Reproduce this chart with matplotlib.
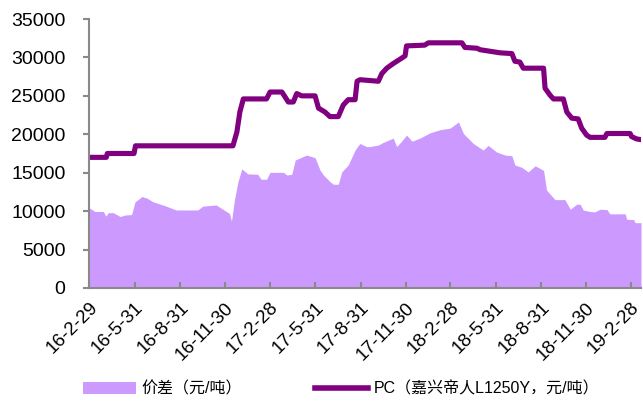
import matplotlib

matplotlib.use("Agg")
import matplotlib.pyplot as plt
import pandas as pd
from matplotlib.lines import Line2D
from matplotlib.patches import Patch

# 价差 (spread), yuan/ton
spread_dates = [
    "2016-02-29", "2016-03-02", "2016-03-12", "2016-03-29", "2016-04-03", "2016-04-08",
    "2016-04-18", "2016-05-02", "2016-05-12", "2016-05-25", "2016-06-01", "2016-06-15",
    "2016-06-25", "2016-07-08", "2016-08-01", "2016-08-23", "2016-10-06", "2016-10-16",
    "2016-11-12", "2016-11-22", "2016-12-09", "2016-12-13", "2016-12-19", "2016-12-26",
    "2017-01-03", "2017-01-15", "2017-02-04", "2017-02-11", "2017-02-22", "2017-03-01",
    "2017-03-28", "2017-04-04", "2017-04-14", "2017-04-21", "2017-05-14", "2017-05-31",
    "2017-06-10", "2017-06-17", "2017-06-30", "2017-07-07", "2017-07-17", "2017-07-24",
    "2017-08-06", "2017-08-20", "2017-08-27", "2017-08-30", "2017-09-12", "2017-09-19",
    "2017-10-06", "2017-10-16", "2017-11-05", "2017-11-12", "2017-11-22", "2017-12-02",
    "2017-12-13", "2017-12-29", "2018-01-19", "2018-02-08", "2018-02-28", "2018-03-17",
    "2018-03-27", "2018-04-16", "2018-05-06", "2018-05-16", "2018-06-02", "2018-06-19",
    "2018-07-03", "2018-07-09", "2018-07-23", "2018-08-05", "2018-08-19", "2018-09-05",
    "2018-09-11", "2018-09-28", "2018-10-18", "2018-10-29", "2018-11-11", "2018-11-18",
    "2018-11-24", "2018-12-08", "2018-12-18", "2018-12-28", "2019-01-11", "2019-01-17",
    "2019-02-17", "2019-02-20", "2019-03-06", "2019-03-09", "2019-03-21",
]
spread_values = [
    10400, 10370, 9950, 9950, 9350, 9800,
    9800, 9300, 9500, 9550, 11200, 11900,
    11700, 11200, 10700, 10150, 10150, 10650,
    10800, 10400, 9700, 8700, 11450, 13800,
    15500, 14850, 14800, 14150, 14150, 15050,
    15050, 14700, 14800, 16650, 17300, 16950,
    15350, 14700, 13850, 13500, 13500, 15100,
    16000, 17950, 18600, 18800, 18400, 18400,
    18600, 18950, 19500, 18400, 19100, 19900,
    19100, 19500, 20200, 20600, 20800, 21600,
    20100, 18800, 17950, 18550, 17700, 17300,
    17200, 16000, 15700, 15100, 15900, 15300,
    12750, 11500, 11500, 10250, 10900, 10900,
    10150, 9950, 9900, 10250, 10200, 9650,
    9650, 8950, 8900, 8500, 8500,
]

# PC price (嘉兴帝人 L1250Y), yuan/ton
pc_dates = [
    "2016-02-29", "2016-04-04", "2016-04-06", "2016-05-30", "2016-06-02", "2016-12-16",
    "2016-12-24", "2016-12-30", "2017-01-06", "2017-02-22", "2017-03-01", "2017-03-25",
    "2017-03-31", "2017-04-07", "2017-04-17", "2017-04-24", "2017-05-04", "2017-05-31",
    "2017-06-07", "2017-06-20", "2017-06-30", "2017-07-17", "2017-07-27", "2017-08-06",
    "2017-08-20", "2017-08-24", "2017-08-30", "2017-10-06", "2017-10-13", "2017-10-23",
    "2017-11-05", "2017-11-22", "2017-11-29", "2017-12-02", "2018-01-08", "2018-01-15",
    "2018-03-24", "2018-03-30", "2018-04-23", "2018-04-30", "2018-05-20", "2018-06-09",
    "2018-07-03", "2018-07-09", "2018-07-19", "2018-07-26", "2018-09-05", "2018-09-08",
    "2018-09-18", "2018-09-25", "2018-10-15", "2018-10-22", "2018-11-01", "2018-11-14",
    "2018-11-21", "2018-12-01", "2018-12-08", "2019-01-07", "2019-01-11", "2019-02-27",
    "2019-03-02", "2019-03-12", "2019-03-21",
]
pc_values = [
    17000, 17000, 17500, 17500, 18500, 18500,
    20300, 22900, 24600, 24600, 25500, 25500,
    24900, 24200, 24200, 25300, 25000, 25000,
    23400, 22900, 22300, 22300, 23800, 24500,
    24500, 26900, 27100, 26900, 27900, 28600,
    29200, 29900, 30200, 31500, 31600, 31900,
    31900, 31300, 31200, 31000, 30800, 30600,
    30500, 29500, 29400, 28600, 28600, 26000,
    25100, 24600, 24600, 22900, 22100, 22000,
    20800, 19900, 19600, 19600, 20100, 20100,
    19700, 19400, 19300,
]

tick_dates = [
    "2016-02-29", "2016-05-31", "2016-08-31", "2016-11-30", "2017-02-28", "2017-05-31",
    "2017-08-31", "2017-11-30", "2018-02-28", "2018-05-31", "2018-08-31", "2018-11-30",
    "2019-02-28",
]
tick_labels = [
    "16-2-29", "16-5-31", "16-8-31", "16-11-30", "17-2-28", "17-5-31",
    "17-8-31", "17-11-30", "18-2-28", "18-5-31", "18-8-31", "18-11-30",
    "19-2-28",
]

AREA_COLOR = "#CC99FF"
LINE_COLOR = "#800080"
AXIS_GRAY = "#898989"

plt.rcParams["font.family"] = ["Liberation Sans", "Noto Sans CJK SC", "DejaVu Sans"]

fig = plt.figure(figsize=(6.43, 4.01), dpi=100)
ax = fig.add_axes([89 / 643, 1 - 288 / 401, 552 / 643, 269 / 401])

sx = pd.to_datetime(spread_dates)
px = pd.to_datetime(pc_dates)
ax.fill_between(sx, spread_values, 0, color=AREA_COLOR, linewidth=0)
ax.plot(px, pc_values, color=LINE_COLOR, linewidth=3.7, solid_joinstyle="round")

ax.set_xlim(pd.Timestamp("2016-02-29"), pd.Timestamp("2019-03-21"))
ax.set_ylim(0, 35000)
ax.set_yticks(range(0, 35001, 5000))
ax.set_xticks(pd.to_datetime(tick_dates))
ax.set_xticklabels(tick_labels, rotation=45, ha="right", rotation_mode="anchor")

for side in ("top", "right"):
    ax.spines[side].set_visible(False)
for side in ("left", "bottom"):
    ax.spines[side].set_color(AXIS_GRAY)
    ax.spines[side].set_linewidth(1.5)

ax.tick_params(axis="y", direction="out", length=4, width=1.5, color=AXIS_GRAY,
               labelsize=14, pad=13)
ax.tick_params(axis="x", direction="in", length=4, width=1.5, color=AXIS_GRAY,
               labelsize=13.5, pad=8)

handles = [
    Patch(facecolor=AREA_COLOR, edgecolor="none"),
    Line2D([0], [0], color=LINE_COLOR, linewidth=4),
]
labels = ["价差（元/吨）", "PC（嘉兴帝人L1250Y，元/吨）"]
fig.legend(handles, labels, loc="center left", bbox_to_anchor=(83 / 643, 1 - 389 / 401),
           ncol=2, frameon=False, fontsize=11.5, handlelength=3.3, handleheight=0.8,
           handletextpad=0.35, columnspacing=4.6, borderpad=0, borderaxespad=0)

fig.savefig("out.png", dpi=100)
